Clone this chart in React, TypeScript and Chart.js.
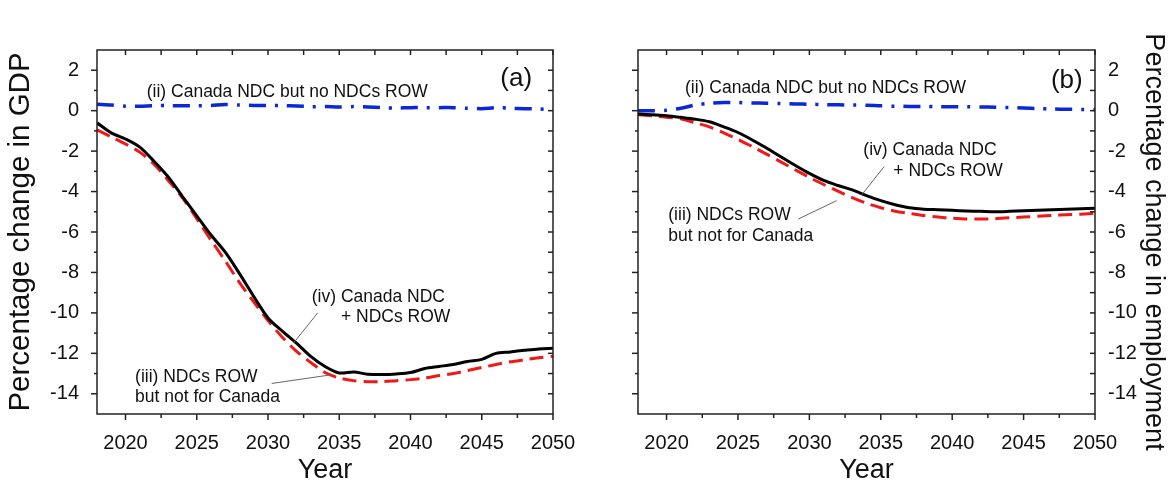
import React, { useEffect, useRef } from "react";
import { Chart, registerables } from "chart.js";

Chart.register(...registerables);

const YEARS = [
  2018, 2019, 2020, 2021, 2022, 2023, 2024, 2025, 2026, 2027, 2028,
  2029, 2030, 2031, 2032, 2033, 2034, 2035, 2036, 2037, 2038, 2039,
  2040, 2041, 2042, 2043, 2044, 2045, 2046, 2047, 2048, 2049, 2050,
];

// (a) GDP
const GDP_IV = [
  -0.6, -1.1, -1.4, -1.8, -2.5, -3.28, -4.25, -5.2, -6.15, -7.0, -8.06,
  -9.19, -10.25, -10.9, -11.5, -12.15, -12.65, -12.97, -12.92, -13.03, -13.05, -13.02,
  -12.95, -12.75, -12.65, -12.55, -12.4, -12.3, -12.0, -11.93, -11.85, -11.78, -11.75,
];
const GDP_III = [
  -0.95, -1.3, -1.65, -2.05, -2.65, -3.45, -4.31, -5.34, -6.4, -7.43, -8.5,
  -9.46, -10.38, -11.2, -11.9, -12.45, -12.95, -13.22, -13.35, -13.4, -13.4, -13.35,
  -13.3, -13.22, -13.1, -13.0, -12.85, -12.7, -12.55, -12.42, -12.32, -12.22, -12.15,
];
const GDP_II = [
  0.32, 0.28, 0.22, 0.22, 0.25, 0.25, 0.24, 0.24, 0.26, 0.3, 0.28,
  0.26, 0.25, 0.25, 0.23, 0.2, 0.2, 0.18, 0.2, 0.18, 0.15, 0.13,
  0.15, 0.15, 0.15, 0.15, 0.12, 0.1, 0.15, 0.12, 0.1, 0.08, 0.05,
];

// (b) Employment
const EMP_IV = [
  -0.17, -0.2, -0.25, -0.33, -0.42, -0.55, -0.8, -1.08, -1.45, -1.85, -2.28,
  -2.7, -3.1, -3.45, -3.7, -3.92, -4.2, -4.45, -4.65, -4.8, -4.87, -4.9,
  -4.93, -4.96, -4.98, -5.0, -4.98, -4.95, -4.92, -4.9, -4.88, -4.85, -4.82,
];
const EMP_III = [
  -0.2, -0.25, -0.32, -0.4, -0.6, -0.8, -1.1, -1.42, -1.78, -2.15, -2.53,
  -2.92, -3.3, -3.65, -3.98, -4.3, -4.58, -4.8, -4.97, -5.08, -5.18, -5.26,
  -5.32, -5.36, -5.36, -5.34, -5.3, -5.26, -5.22, -5.18, -5.15, -5.12, -5.08,
];
const EMP_II = [
  0.0, 0.0, 0.02, 0.12, 0.28, 0.36, 0.4, 0.4, 0.38, 0.37, 0.35,
  0.33, 0.32, 0.3, 0.29, 0.28, 0.27, 0.24, 0.22, 0.21, 0.2, 0.2,
  0.19, 0.19, 0.18, 0.17, 0.15, 0.13, 0.1, 0.08, 0.07, 0.06, 0.05,
];

const X_TICKS = [2020, 2025, 2030, 2035, 2040, 2045, 2050];
const X_MINOR = [2022.5, 2027.5, 2032.5, 2037.5, 2042.5, 2047.5];
const Y_TICKS = [-14, -12, -10, -8, -6, -4, -2, 0, 2];
const Y_MINOR = [-15, -13, -11, -9, -7, -5, -3, -1, 1, 3];

const FONT = "'Liberation Sans', Arial, Helvetica, sans-serif";
const INK = "#111111";

type Txt = { text: string; x: number; y: number; size: number; align?: CanvasTextAlign };
type Lead = { x1: number; y1: number; x2: number; y2: number };
type SideTitle = { text: string; size: number; x: number; y: number } | null;

const TEXTS_A: Txt[] = [
  { text: "(a)", x: 2048.53, y: 1.21, size: 26, align: "right" },
  { text: "(ii) Canada NDC but no NDCs ROW", x: 2021.49, y: 0.66, size: 17.5 },
  { text: "(iv) Canada NDC", x: 2033.07, y: -9.45, size: 17.5 },
  { text: "+ NDCs ROW", x: 2035.12, y: -10.44, size: 17.5 },
  { text: "(iii) NDCs ROW", x: 2020.67, y: -13.4, size: 17.5 },
  { text: "but not for Canada", x: 2020.67, y: -14.39, size: 17.5 },
];
const LEADS_A: Lead[] = [
  { x1: 2033.49, y1: -10.0, x2: 2031.78, y2: -11.5 },
  { x1: 2030.26, y1: -13.49, x2: 2034.35, y2: -13.07 },
];
const TEXTS_B: Txt[] = [
  { text: "(b)", x: 2049.14, y: 1.13, size: 26, align: "right" },
  { text: "(ii) Canada NDC but no NDCs ROW", x: 2021.29, y: 0.89, size: 17.5 },
  { text: "(iv) Canada NDC", x: 2033.78, y: -2.19, size: 17.5 },
  { text: "+ NDCs ROW", x: 2035.88, y: -3.23, size: 17.5 },
  { text: "(iii) NDCs ROW", x: 2020.12, y: -5.43, size: 17.5 },
  { text: "but not for Canada", x: 2020.12, y: -6.43, size: 17.5 },
];
const LEADS_B: Lead[] = [
  { x1: 2035.23, y1: -2.77, x2: 2033.66, y2: -4.17 },
  { x1: 2029.22, y1: -5.36, x2: 2031.91, y2: -4.45 },
];

function framePlugin(texts: Txt[], leads: Lead[], sideTitle: SideTitle) {
  return {
    id: "frame",
    afterDatasetsDraw(chart: any) {
      const { ctx, chartArea: a, scales } = chart;
      const xs = scales.x;
      const ys = scales.y;
      ctx.save();
      // leader lines
      ctx.strokeStyle = "#666";
      ctx.lineWidth = 1;
      for (const l of leads) {
        ctx.beginPath();
        ctx.moveTo(xs.getPixelForValue(l.x1), ys.getPixelForValue(l.y1));
        ctx.lineTo(xs.getPixelForValue(l.x2), ys.getPixelForValue(l.y2));
        ctx.stroke();
      }
      // annotation texts
      ctx.fillStyle = INK;
      ctx.textBaseline = "alphabetic";
      for (const t of texts) {
        ctx.font = `${t.size}px ${FONT}`;
        ctx.textAlign = t.align || "left";
        ctx.fillText(t.text, xs.getPixelForValue(t.x), ys.getPixelForValue(t.y));
      }
      // side (right) axis title, rotated clockwise
      if (sideTitle) {
        ctx.save();
        ctx.translate(sideTitle.x, sideTitle.y);
        ctx.rotate(Math.PI / 2);
        ctx.font = `${sideTitle.size}px ${FONT}`;
        ctx.textAlign = "center";
        ctx.textBaseline = "middle";
        ctx.fillText(sideTitle.text, 0, 0);
        ctx.restore();
      }
      // frame
      ctx.strokeStyle = "#222";
      ctx.lineWidth = 1.5;
      ctx.strokeRect(a.left, a.top, a.right - a.left, a.bottom - a.top);
      // ticks
      const line = (x1: number, y1: number, x2: number, y2: number) => {
        ctx.beginPath();
        ctx.moveTo(x1, y1);
        ctx.lineTo(x2, y2);
        ctx.stroke();
      };
      for (const v of X_TICKS) {
        const p = xs.getPixelForValue(v);
        line(p, a.bottom, p, a.bottom + 6);
        line(p, a.top, p, a.top + 5);
      }
      for (const v of X_MINOR) {
        const p = xs.getPixelForValue(v);
        line(p, a.bottom, p, a.bottom + 4);
        line(p, a.top, p, a.top + 5);
      }
      for (const v of Y_TICKS) {
        const p = ys.getPixelForValue(v);
        line(a.left - 6, p, a.left, p);
        line(a.right - 5, p, a.right, p);
      }
      for (const v of Y_MINOR) {
        const p = ys.getPixelForValue(v);
        if (p <= a.top + 1 || p >= a.bottom - 1) continue;
        line(a.left - 3, p, a.left, p);
        line(a.right - 5, p, a.right, p);
      }
      ctx.restore();
    },
  };
}

function series(vals: number[]) {
  return YEARS.map((x, i) => ({ x, y: vals[i] }));
}

function makeConfig(
  side: "left" | "right",
  iv: number[],
  iii: number[],
  ii: number[],
  yTitle: string,
  yTitleSize: number,
  yTitlePad: number,
  texts: Txt[],
  leads: Lead[]
): any {
  const sideTitle: SideTitle =
    side === "right" ? { text: yTitle, size: yTitleSize, x: 586 - 15 - yTitlePad, y: 242 } : null;
  return {
    type: "line",
    data: {
      datasets: [
        {
          data: series(iv),
          borderColor: "#000000",
          borderWidth: 3,
          pointRadius: 0,
          tension: 0.3,
          fill: false,
        },
        {
          data: series(iii),
          borderColor: "#f01818",
          borderWidth: 3,
          borderDash: [14, 7],
          pointRadius: 0,
          tension: 0.3,
          fill: false,
        },
        {
          data: series(ii),
          borderColor: "#0a28d8",
          borderWidth: 3.5,
          borderDash: [17, 9, 3, 9],
          pointRadius: 0,
          tension: 0.3,
          fill: false,
        },
      ],
    },
    options: {
      responsive: false,
      animation: false,
      events: [],
      layout: {
        padding: {
          left: side === "left" ? 0 : 52,
          right: side === "left" ? 33 : 0,
          top: 50,
          bottom: 0,
        },
      },
      plugins: { legend: { display: false }, tooltip: { enabled: false } },
      scales: {
        x: {
          type: "linear",
          position: "bottom",
          min: 2018,
          max: 2050,
          afterBuildTicks: (s: any) => {
            s.ticks = X_TICKS.map((v) => ({ value: v }));
          },
          afterFit: (s: any) => {
            s.height = 68;
          },
          grid: { display: false },
          border: { display: false },
          ticks: {
            padding: 9,
            color: INK,
            font: { family: FONT, size: 20 },
            maxRotation: 0,
            autoSkip: false,
            callback: (v: any) => String(v),
          },
          title: {
            display: true,
            text: "Year",
            color: INK,
            font: { family: FONT, size: 27 },
            padding: { top: 0, bottom: -5 },
          },
        },
        y: {
          type: "linear",
          position: side,
          min: -15,
          max: 3,
          afterBuildTicks: (s: any) => {
            s.ticks = Y_TICKS.map((v) => ({ value: v }));
          },
          afterFit: (s: any) => {
            s.width = side === "left" ? 97 : 77;
          },
          grid: { display: false },
          border: { display: false },
          ticks: {
            padding: side === "left" ? 10 : 5,
            color: INK,
            font: { family: FONT, size: 20 },
            autoSkip: false,
            callback: (v: any) => String(v),
          },
          title: {
            display: side === "left",
            text: yTitle,
            color: INK,
            font: { family: FONT, size: yTitleSize },
            padding: { top: yTitlePad, bottom: 0 },
          },
        },
      },
    },
    plugins: [framePlugin(texts, leads, sideTitle)],
  };
}

export default function App() {
  const leftRef = useRef<HTMLCanvasElement | null>(null);
  const rightRef = useRef<HTMLCanvasElement | null>(null);

  useEffect(() => {
    if (!leftRef.current || !rightRef.current) return;
    const c1 = new Chart(
      leftRef.current,
      makeConfig("left", GDP_IV, GDP_III, GDP_II, "Percentage change in GDP", 29.5, 3, TEXTS_A, LEADS_A)
    );
    const c2 = new Chart(
      rightRef.current,
      makeConfig("right", EMP_IV, EMP_III, EMP_II, "Percentage change in employment", 27, 4, TEXTS_B, LEADS_B)
    );
    return () => {
      c1.destroy();
      c2.destroy();
    };
  }, []);

  return (
    <div
      style={{
        position: "absolute",
        left: 0,
        top: 0,
        width: 1172,
        height: 482,
        background: "#ffffff",
        overflow: "hidden",
      }}
    >
      <canvas
        ref={leftRef}
        width={586}
        height={482}
        style={{ position: "absolute", left: 0, top: 0, width: 586, height: 482 }}
      />
      <canvas
        ref={rightRef}
        width={586}
        height={482}
        style={{ position: "absolute", left: 586, top: 0, width: 586, height: 482 }}
      />
    </div>
  );
}
